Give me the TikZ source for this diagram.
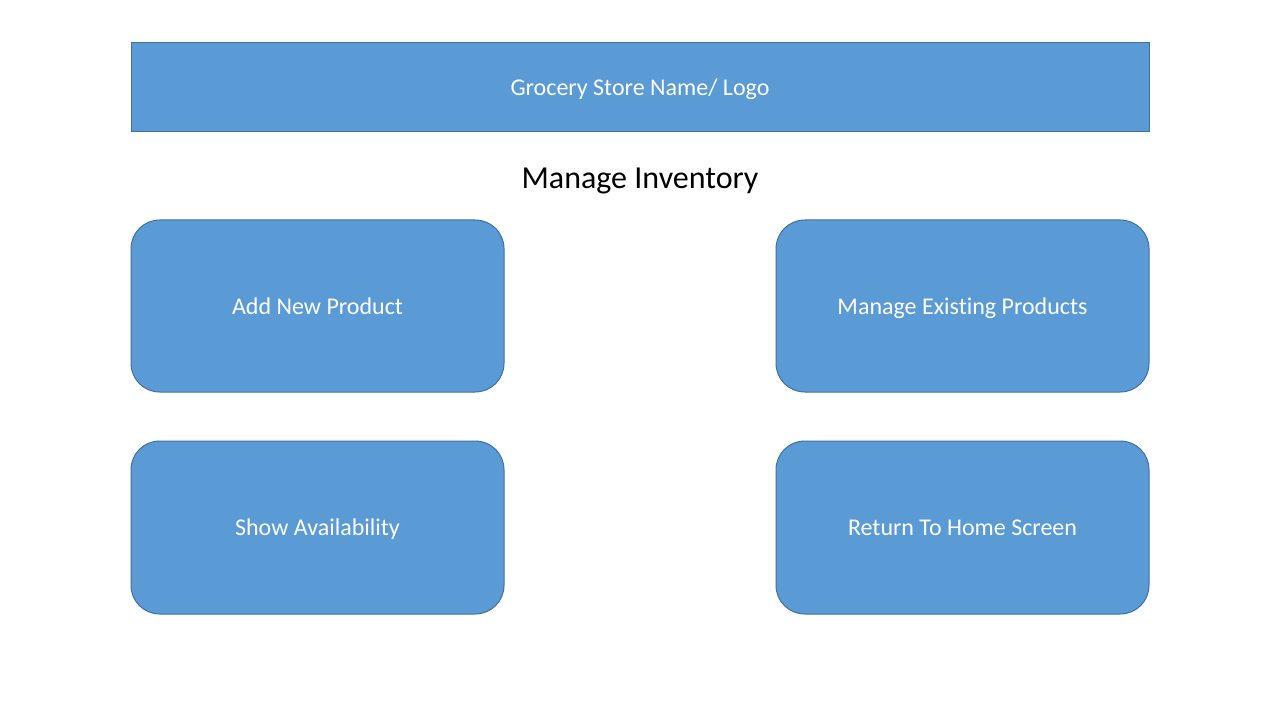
\documentclass[tikz,border=0pt]{standalone}
\usepackage{fontspec}
\setmainfont{Carlito}[Ligatures={NoCommon}]
\definecolor{boxfill}{HTML}{5B9BD5}
\definecolor{boxline}{HTML}{41719C}
\begin{document}
\begin{tikzpicture}[x=0.75pt,y=-0.75pt,
  hdr/.style={draw=boxline,fill=boxfill,line width=0.75pt},
  btn/.style={draw=boxline,fill=boxfill,line width=0.75pt,rounded corners=21.5pt},
  lbl/.style={text=white,font=\fontsize{18}{22}\selectfont,text height=12.5pt,text depth=3.5pt,inner sep=0pt},
  ttl/.style={font=\fontsize{24}{29}\selectfont,text=black,text height=17pt,text depth=5pt,inner sep=0pt}]
\useasboundingbox[fill=white] (0,0) rectangle (1280,720);
\draw[hdr] (131,43) rectangle (1149,132);
\node[lbl] (hdr) at (640,90) {Grocery Store Name/ Logo};
\node[ttl] (title) at (640,181) {Manage Inventory};
\draw[btn] (131,220) rectangle (504,392);
\node[lbl] (add) at (317.5,308) {Add New Product};
\draw[btn] (776,220) rectangle (1149,392);
\node[lbl] (manage) at (962.5,308) {Manage Existing Products};
\draw[btn] (131,441) rectangle (504,614);
\node[lbl] (show) at (317.5,529.5) {Show Availability};
\draw[btn] (776,441) rectangle (1149,614);
\node[lbl] (ret) at (962.5,529.5) {Return To Home Screen};
\end{tikzpicture}
\end{document}
